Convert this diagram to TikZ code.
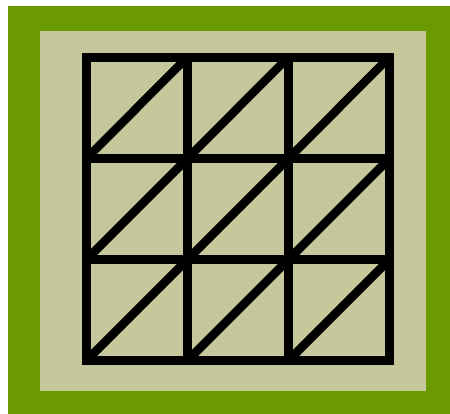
\documentclass[tikz,border=0pt]{standalone}
\definecolor{framegreen}{RGB}{107,153,0}
\definecolor{panelbeige}{RGB}{199,199,156}
\tikzset{gridline/.style={line width=9pt,black,line cap=rect},
         diagline/.style={line width=8.5pt,black}}
\begin{document}
\begin{tikzpicture}[x=1pt,y=1pt]
\useasboundingbox (0,0) rectangle (450,414);
\fill[white] (0,0) rectangle (450,414);
\fill[framegreen] (8,0) rectangle (450,408);
\fill[panelbeige] (40,23) rectangle (426,383);
% grid coordinates
\foreach \i/\x in {0/86,1/187,2/288,3/389}{
  \foreach \j/\y in {0/53,1/154,2/255,3/356.5}{
    \coordinate (p\i\j) at (\x,\y);
  }
}
% diagonals
\foreach \i [evaluate=\i as \ii using int(\i+1)] in {0,1,2}{
  \foreach \j [evaluate=\j as \jj using int(\j+1)] in {0,1,2}{
    \draw[diagline] (p\i\j) -- (p\ii\jj);
  }
}
% grid lines
\foreach \i in {0,1,2,3}{
  \draw[gridline] (p\i0) -- (p\i3);
  \draw[gridline] (p0\i) -- (p3\i);
}
\end{tikzpicture}
\end{document}
